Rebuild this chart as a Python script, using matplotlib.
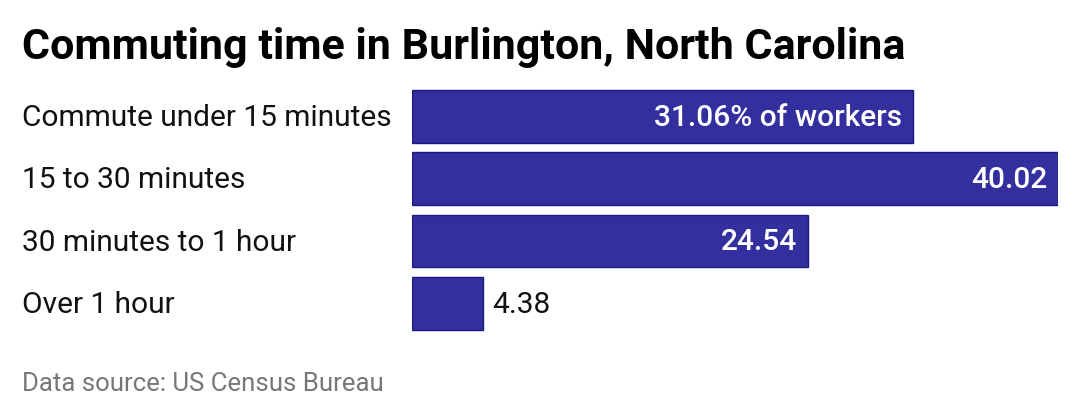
import matplotlib
matplotlib.use('Agg')
import matplotlib.pyplot as plt

plt.rcParams['font.family'] = ['Roboto', 'DejaVu Sans']

categories = ['Commute under 15 minutes', '15 to 30 minutes', '30 minutes to 1 hour', 'Over 1 hour']
values = [31.06, 40.02, 24.54, 4.38]
value_labels = ['31.06% of workers', '40.02', '24.54', '4.38']
inside = [True, True, True, False]

W, H = 1080, 420
fig = plt.figure(figsize=(W/100, H/100), dpi=100)

ax = fig.add_axes([412/W, 1 - 334.4/H, (1058 - 412)/W, 249/H])
ax.barh(range(len(values)), values, height=0.85, color='#332f9f', edgecolor='#1c1a80', linewidth=1)
ax.set_xlim(0, 40.02)
ax.set_ylim(len(values) - 0.5, -0.5)
ax.axis('off')

for i, (v, lab, ins) in enumerate(zip(values, value_labels, inside)):
    if ins:
        ax.annotate(lab, (v, i), xytext=(-8, -1), textcoords='offset points',
                    ha='right', va='center', color='white', fontsize=21.5, fontweight='medium')
    else:
        ax.annotate(lab, (v, i), xytext=(7, -1), textcoords='offset points',
                    ha='left', va='center', color='#111111', fontsize=21.5)

for i, c in enumerate(categories):
    y = 1 - (87 + 62.25 * (i + 0.5)) / H
    fig.text(22/W, y, c, ha='left', va='center', fontsize=21.5, color='#111111')

fig.text(22/W, 1 - 47/H, 'Commuting time in Burlington, North Carolina', ha='left', va='center',
         fontsize=31, fontweight='bold', color='#000000')
fig.text(22/W, 1 - 384/H, 'Data source: US Census Bureau', ha='left', va='center',
         fontsize=18.5, color='#777777')

fig.savefig('out.png', dpi=100)
